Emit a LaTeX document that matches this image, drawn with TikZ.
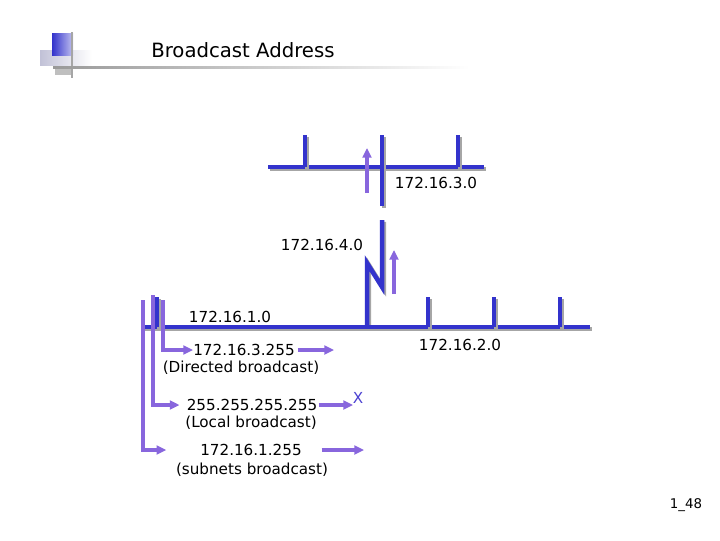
\documentclass[tikz,border=0pt]{standalone}
\usepackage{fontspec}
\setmainfont{DejaVu Sans}
\usepackage{tikz}
\usetikzlibrary{arrows.meta}
\definecolor{netblue}{RGB}{51,51,204}
\definecolor{bcast}{RGB}{136,102,221}
\tikzset{
  net/.style={line width=3.2pt,draw=netblue,preaction={draw=black!35,line width=3.2pt,transform canvas={shift={(1.3pt,-1.3pt)}}}},
  bc/.style={line width=2.5pt,bcast,-{Triangle[length=2.4mm,width=2.2mm]}},
  lbl/.style={font=\fontsize{10.8}{12}\selectfont,inner sep=0pt},
}
\begin{document}
\begin{tikzpicture}[x=0.025cm,y=-0.025cm]
  \useasboundingbox (0,0) rectangle (720,540);
  % logo and title
  \shade[left color=netblue!35!gray!40,right color=white] (40,50) rectangle (92,65);
  \shade[left color=netblue,right color=netblue!30] (52,33) rectangle (73,55);
  \fill[gray!50] (55,68) rectangle (72,75);
  \draw[gray!70,line width=1.2pt] (72,32) -- (72,78);
  \shade[left color=gray!80,right color=white] (53,66) rectangle (470,68);
  \node[anchor=west,inner sep=0pt,font=\fontsize{14}{16}\selectfont](title) at (151,50){Broadcast Address};
  % networks
  \draw[net] (268,167) -- (484,167);
  \foreach \x in {305,458} \draw[net] (\x,135) -- (\x,167);
  \draw[net] (382,135) -- (382,206);
  \draw[net] (382,220) -- (382,287) -- (367,263) -- (367,327);
  \draw[net] (142,327) -- (590,327);
  \foreach \x in {157,428,494,560} \draw[net] (\x,297) -- (\x,327);
  \draw[bc] (367,193) -- (367,148);
  \draw[bc] (394,294) -- (394,250);
  \node[lbl](n3) at (436,183){172.16.3.0};
  \node[lbl](n4) at (322,245){172.16.4.0};
  \node[lbl](n1) at (230,317){172.16.1.0};
  \node[lbl](n2) at (460,345){172.16.2.0};
  % broadcasts
  \node[lbl,anchor=west](dir) at (193,350){172.16.3.255};
  \node[lbl](dirt) at (241,368){(Directed broadcast)};
  \node[lbl](loc) at (252,405){255.255.255.255};
  \node[lbl](loct) at (251,423){(Local broadcast)};
  \node[lbl](sub) at (251,450){172.16.1.255};
  \node[lbl](subt) at (252,470){(subnets broadcast)};
  \node[lbl,text=netblue!70!bcast](x) at (358,398){X};
  \coordinate (d1) at (163,300); \coordinate (d2) at (153,295); \coordinate (d3) at (143,300);
  \coordinate (dirend) at (334,350); \coordinate (locend) at (353,405); \coordinate (subend) at (364,450);
  \draw[bc] (d1) |- (dir.west);
  \draw[bc,shorten >=5pt] (d2) |- (loc.west);
  \draw[bc,shorten >=24pt] (d3) |- (sub.west);
  \draw[bc,shorten <=2pt] (dir.east) -- (dirend);
  \draw[bc,shorten <=1pt] (loc.east) -- (locend);
  \draw[bc,shorten <=14pt] (sub.east) -- (subend);
  \node[font=\fontsize{9.5}{11}\selectfont](pg) at (686,505){1\_48};
\end{tikzpicture}
\end{document}
